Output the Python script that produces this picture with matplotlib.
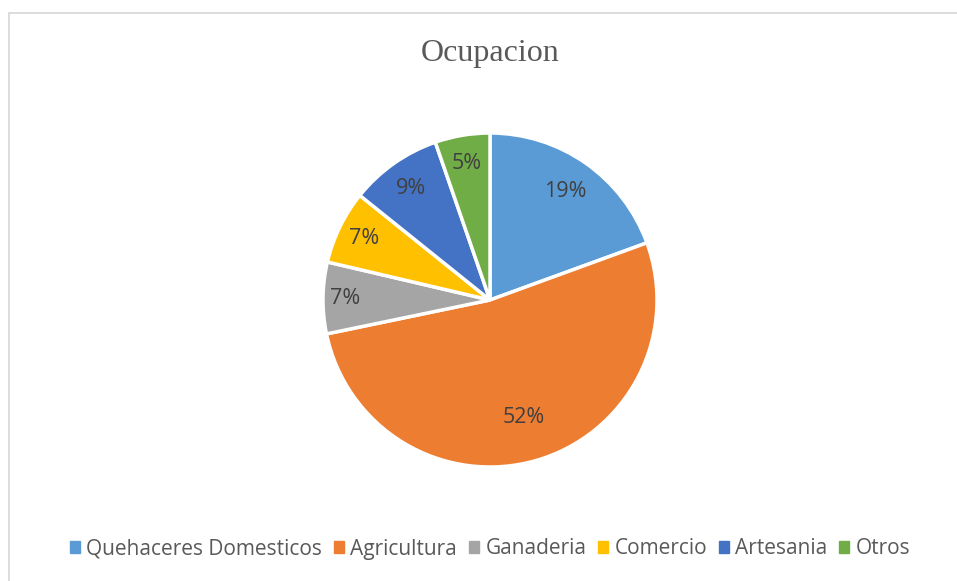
import numpy as np
import matplotlib
matplotlib.use("Agg")
import matplotlib.pyplot as plt
from matplotlib.patches import Rectangle

# data (percent of respondents)
categories = ["Quehaceres Domesticos", "Agricultura", "Ganaderia",
              "Comercio", "Artesania", "Otros"]
shares = [19.4, 52.2, 6.9, 7.1, 8.9, 5.3]
colors = ["#5B9BD5", "#ED7D31", "#A5A5A5", "#FFC000", "#4472C4", "#70AD47"]
label_dist = [0.79, 0.73, 0.87, 0.84, 0.82, 0.83]

W, H = 957, 581
fig = plt.figure(figsize=(W / 100, H / 100), dpi=100)

# light grey chart frame (only left/top visible in the crop)
fig.patches.append(Rectangle((9 / W, -0.1), 1.1, (H - 13) / H + 0.1,
                             transform=fig.transFigure, fill=False,
                             edgecolor="#D9D9D9", linewidth=1.3))

cx, cy, r = 490, 300, 167
ax = fig.add_axes([(cx - r) / W, (H - cy - r) / H, 2 * r / W, 2 * r / H])
wedges, _ = ax.pie(shares, colors=colors, startangle=90, counterclock=False,
                   radius=1.0, wedgeprops=dict(edgecolor="white", linewidth=2.5))
ax.set_xlim(-1, 1)
ax.set_ylim(-1, 1)
ax.set_aspect("auto")
ax.axis("off")

total = sum(shares)
for w, s, d in zip(wedges, shares, label_dist):
    mid = np.deg2rad((w.theta1 + w.theta2) / 2)
    ax.text(d * np.cos(mid), d * np.sin(mid), "%.0f%%" % (100 * s / total),
            ha="center", va="center", fontsize=15.5, color="#404040",
            family="Open Sans")

fig.text(cx / W, 1 - 53 / H, "Ocupacion", ha="center", va="center",
         fontsize=23, color="#595959", family="Liberation Serif")

handles = [Rectangle((0, 0), 1, 1, color=c) for c in colors]
fig.legend(handles, categories, loc="center", bbox_to_anchor=(cx / W, 1 - 549 / H),
           ncol=6, frameon=False, handlelength=0.5, handleheight=0.5,
           handletextpad=0.3, columnspacing=0.55,
           prop=dict(family="Open Sans", size=15), labelcolor="#595959")

fig.savefig("out.png", dpi=100)
